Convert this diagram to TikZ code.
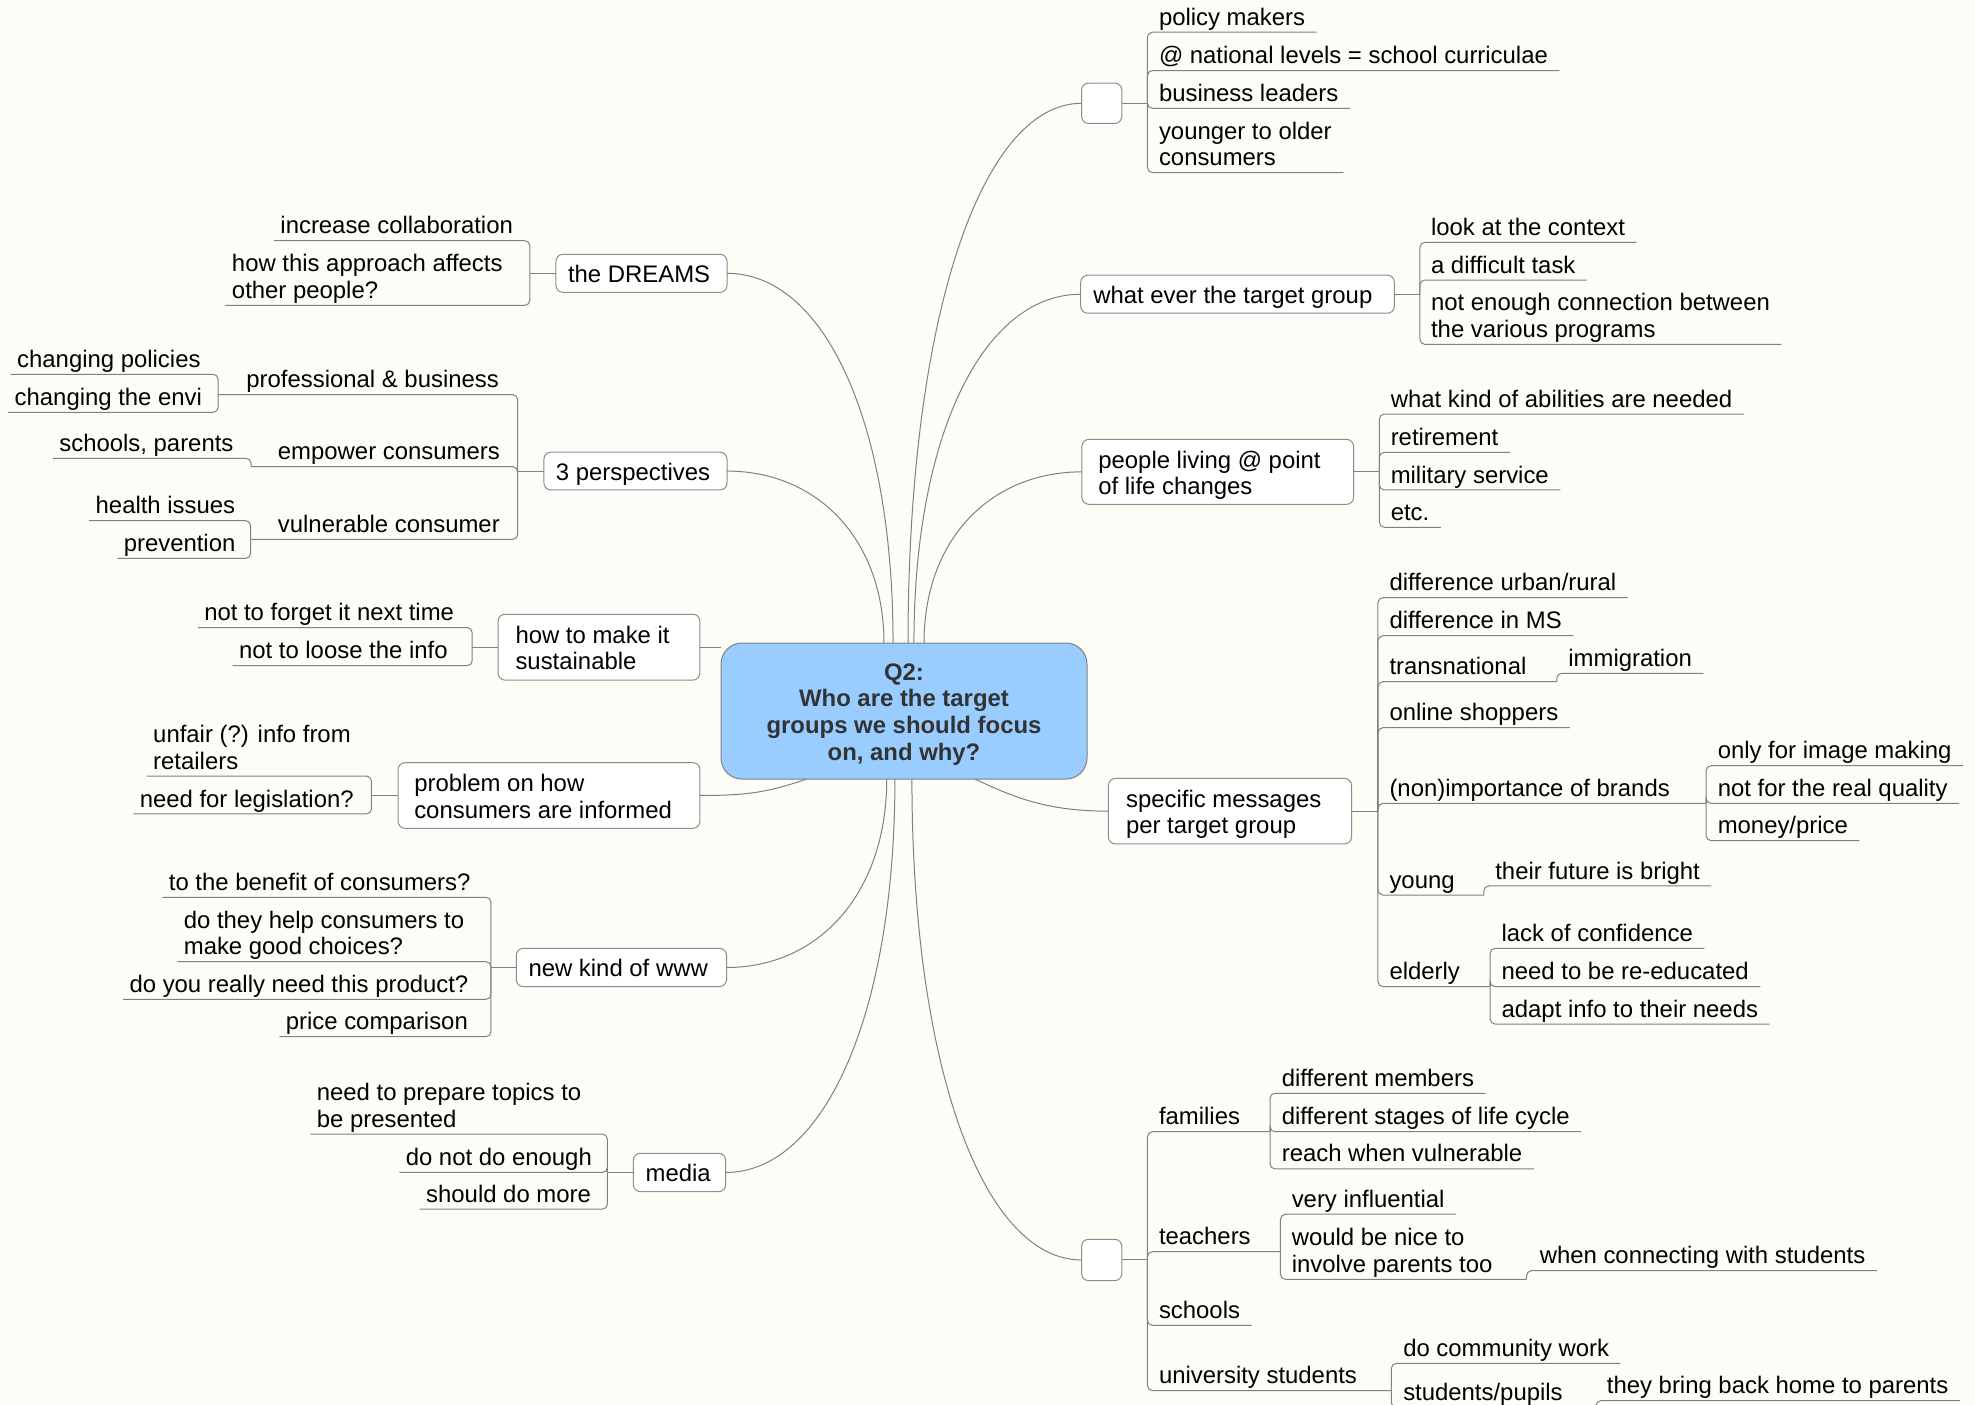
\documentclass[tikz,border=0pt]{standalone}
\usepackage{fontspec}
\setmainfont{Liberation Sans}
\definecolor{bg}{RGB}{253,253,247}
\definecolor{conncol}{RGB}{128,128,128}
\definecolor{boxline}{RGB}{140,140,140}
\definecolor{ctrfill}{RGB}{153,204,255}
\definecolor{ctrtext}{RGB}{51,51,51}
\newcommand\leaffont{\fontsize{23.9pt}{26.45pt}\selectfont}
\newcommand\twoln[2]{\vtop{\hbox{#1}\hbox{#2}}}
\newcommand\lbox[2]{\makebox[#1][l]{#2}}
% right-side leaves / inner nodes
\newcommand\RL[6]{\node[rleaf] (#1) at (#4-9,#5-5.5) {#6};\draw[trk] (#2,#3) |- (#1.east |- 0,#5);}
\newcommand\RLL[6]{\node[rleaf] (#1) at (#4-9,#5-26.5) {#6};\draw[trk] (#2,#3) |- (#1.east |- 0,#5);}
\newcommand\RN[7]{\node[rleaf] (#1) at (#4-9,#5-5.5) {#7};\draw[trk] (#2,#3) |- (#6,#5);}
\newcommand\RNN[7]{\node[rleaf] (#1) at (#4-9,#5-26.5) {#7};\draw[trk] (#2,#3) |- (#6,#5);}
% left-side leaves / inner nodes
\newcommand\LL[6]{\node[lleaf] (#1) at (#4-5,#5-5.5) {#6};\draw[trk] (#2,#3) |- (#1.west |- 0,#5);}
\newcommand\LLL[6]{\node[lleaf] (#1) at (#4-5,#5-26.5) {#6};\draw[trk] (#2,#3) |- (#1.west |- 0,#5);}
\newcommand\LN[7]{\node[lleaf] (#1) at (#4-5,#5-5.5) {#7};\draw[trk] (#2,#3) |- (#6,#5);}
\tikzset{
  conn/.style={draw=conncol, line width=1pt},
  trk/.style={conn, rounded corners=5pt},
  rleaf/.style={anchor=base west, inner xsep=11.34pt, inner ysep=0pt, font=\leaffont, text=black},
  lleaf/.style={anchor=base west, inner xsep=6.3pt, inner ysep=0pt, font=\leaffont, text=black},
  topic/.style={draw=boxline, fill=white, line width=1pt, rounded corners=7pt, inner sep=0pt, outer sep=0pt, anchor=center, font=\leaffont, text=black, text height=22pt, text depth=3pt},
  topicii/.style={topic, text depth=29.45pt},
  ctrbox/.style={draw=gray, fill=ctrfill, line width=1pt, rounded corners=21pt, inner sep=0pt, outer sep=0pt, anchor=center, text=ctrtext, font=\fontsize{23.9pt}{26.8pt}\selectfont\bfseries}
}
\begin{document}
\begin{tikzpicture}[x=1.2596pt,y=-1.2596pt]
\useasboundingbox (0,0) rectangle (1568,1115.4);
\fill[bg] (0,0) rectangle (1568,1115.4);
\clip (0,0) rectangle (1568,1115.4);

% central topic
\node[ctrbox, minimum width=366pt, minimum height=136pt] (ctr) at (717.7,564.5) {\raisebox{-4pt}[\height][\depth]{\begin{tabular}{@{}c@{}}Q2:\\Who are the target\\groups we should focus\\on, and why?\end{tabular}}};

% main topics
\node[topic, minimum width=40.2pt, minimum height=40.3pt] (e1) at (874.65,82) {};
\node[topic, minimum width=313.6pt, minimum height=38pt] (wt) at (982.5,233.6) {\lbox{288.4pt}{what ever the target group}};
\node[topicii, minimum width=271.6pt, minimum height=65pt] (pl) at (966.8,374.6) {\lbox{238.8pt}{\twoln{people living @ point}{of life changes}}};
\node[topicii, minimum width=243.1pt, minimum height=65.5pt] (sm) at (976.5,644) {\lbox{207.8pt}{\twoln{specific messages}{per target group}}};
\node[topic, minimum width=40.2pt, minimum height=41.3pt] (e2) at (874.65,1000.3) {};
\node[topic, minimum width=171.1pt, minimum height=38pt] (dr) at (509.3,217) {\lbox{146.9pt}{the DREAMS}};
\node[topic, minimum width=183.1pt, minimum height=37.8pt] (tp) at (504.5,374) {\lbox{159pt}{3 perspectives}};
\node[topicii, minimum width=201.9pt, minimum height=65.8pt] (hm) at (475.55,513.8) {\lbox{166.9pt}{\twoln{how to make it}{sustainable}}};
\node[topicii, minimum width=301.9pt, minimum height=65.6pt] (pr) at (435.85,631.55) {\lbox{269.4pt}{\twoln{problem on how}{consumers are informed}}};
\node[topic, minimum width=210.2pt, minimum height=38.3pt] (ww) at (493.35,768.1) {\lbox{185.8pt}{new kind of www}};
\node[topic, minimum width=92.3pt, minimum height=38.4pt] (md) at (539.45,930.85) {\lbox{67.6pt}{media}};

% attachment points on the central topic
\coordinate (s3p) at (701.8,510.5);
\coordinate (sdr) at (709,510.5);
\coordinate (se1) at (720.9,510.5);
\coordinate (swt) at (725.6,510.5);
\coordinate (spl) at (733.6,510.5);
\coordinate (sww) at (704,618.5);
\coordinate (smd) at (710.5,618.5);
\coordinate (se2) at (724,618.5);
\coordinate (ssm) at (774,618.5);
\coordinate (spr) at (640.7,618.5);

% main connectors
\draw[conn] (se1) .. controls +(0,-257) and +(-80,0) .. (e1.west);
\draw[conn] (swt) .. controls +(0,-166) and +(-77,0) .. (wt.west);
\draw[conn] (spl) .. controls +(0,-82) and +(-73,0) .. (pl.west);
\draw[conn] (sdr) .. controls +(0,-176) and +(77,0) .. (dr.east);
\draw[conn] (s3p) .. controls +(0,-82) and +(72,0) .. (tp.east);
\draw[conn] (sww) .. controls +(0,90) and +(74,0) .. (ww.east);
\draw[conn] (smd) .. controls +(0,187) and +(78,0) .. (md.east);
\draw[conn] (se2) .. controls +(0,229) and +(-78,0) .. (e2.west);
\draw[conn] (ssm) .. controls +(30,14) and +(-50,0) .. (sm.west);
\draw[conn] (spr) .. controls +(-30,10) and +(40,0) .. (pr.east);
\draw[conn] (hm.east) -- (hm.east -| ctr.west);

% ---------- right side ----------
\draw[conn] (e1.east) -- (911,82);
\RL{pm}{911}{82}{920}{25.6}{policy makers}
\RL{nl}{911}{82}{920}{56}{@ national levels = school curriculae}
\RL{bl}{911}{82}{920}{86}{business leaders}
\RLL{yo}{911}{82}{920}{137}{\twoln{younger to older}{consumers}}

\draw[conn] (wt.east) -- (1127.3,233.6);
\RL{lc}{1127.3}{233.6}{1136}{192.4}{look at the context}
\RL{dt}{1127.3}{233.6}{1136}{222.3}{a difficult task}
\RLL{ne}{1127.3}{233.6}{1136}{273.4}{\twoln{not enough connection between}{the various programs}}

\draw[conn] (pl.east) -- (1095.1,374.6);
\RL{wk}{1095.1}{374.6}{1104}{328.7}{what kind of abilities are needed}
\RL{rt}{1095.1}{374.6}{1104}{359.1}{retirement}
\RL{ms}{1095.1}{374.6}{1104}{389}{military service}
\RL{et}{1095.1}{374.6}{1104}{418.6}{etc.}

\draw[conn] (sm.east) -- (1094,644);
\RL{du}{1094}{644}{1103}{474.5}{difference urban/rural}
\RL{dm}{1094}{644}{1103}{504.7}{difference in MS}
\RN{tn}{1094}{644}{1103}{541.2}{1236}{transnational}
\RL{im}{1236}{541.2}{1245}{534.5}{immigration}
\RL{os}{1094}{644}{1103}{577.7}{online shoppers}
\RN{nb}{1094}{644}{1103}{637.8}{1354.5}{(non)importance of brands}
\RL{oi}{1354.5}{637.8}{1363.6}{607.9}{only for image making}
\RL{nr}{1354.5}{637.8}{1363.6}{637.8}{not for the real quality}
\RL{mp}{1354.5}{637.8}{1363.6}{667.4}{money/price}
\RN{yg}{1094}{644}{1103}{710.6}{1178}{young}
\RL{fb}{1178}{710.6}{1187}{703.4}{their future is bright}
\RN{el}{1094}{644}{1103}{783.3}{1183}{elderly}
\RL{lk}{1183}{783.3}{1192}{752.9}{lack of confidence}
\RL{nd}{1183}{783.3}{1192}{783.3}{need to be re-educated}
\RL{ad}{1183}{783.3}{1192}{813}{adapt info to their needs}

\draw[conn] (e2.east) -- (911,1000.3);
\RN{fa}{911}{1000.3}{920}{898.5}{1008.3}{families}
\RL{dfm}{1008.3}{898.5}{1017.5}{868}{different members}
\RL{dst}{1008.3}{898.5}{1017.5}{898.5}{different stages of life cycle}
\RL{rwv}{1008.3}{898.5}{1017.5}{928}{reach when vulnerable}
\RN{te}{911}{1000.3}{920}{993.7}{1016.6}{teachers}
\RL{vi}{1016.6}{993.7}{1025.4}{964}{very influential}
\RNN{wn}{1016.6}{993.7}{1025.4}{1015.7}{1212}{\twoln{would be nice to}{involve parents too}}
\RL{wc}{1212}{1015.7}{1222.3}{1008.8}{when connecting with students}
\RL{sc}{911}{1000.3}{920}{1052.2}{schools}
\RN{us}{911}{1000.3}{920}{1104}{1104.6}{university students}
\RL{cw}{1104.6}{1104}{1113.9}{1082.4}{do community work}
\RN{spp}{1104.6}{1104}{1113.9}{1117.5}{1267}{students/pupils}
\RL{bh}{1267}{1117.5}{1275.6}{1112}{they bring back home to parents}

% ---------- left side ----------
\draw[conn] (dr.west) -- (420.6,217);
\LL{ic}{420.6}{217}{222.5}{191.1}{increase collaboration}
\LLL{ha}{420.6}{217}{184}{242.4}{\twoln{how this approach affects}{other people?}}

\draw[conn] (tp.west) -- (411,374);
\LN{pb}{411}{374}{195.5}{313.3}{173.2}{professional \& business}
\LL{cp}{173.2}{313.3}{13.5}{297.2}{changing policies}
\LL{ce}{173.2}{313.3}{11.5}{327.3}{changing the envi}
\LN{ec}{411}{374}{220.5}{370.5}{199.3}{empower consumers}
\LL{spa}{199.3}{370.5}{47}{363.9}{schools, parents}
\LN{vc}{411}{374}{220.5}{428.2}{199}{vulnerable consumer}
\LL{hi}{199}{428.2}{75.8}{413.4}{health issues}
\LL{pv}{199}{428.2}{98.1}{443.3}{prevention}

\draw[conn] (hm.west) -- (374.9,513.8);
\LL{nf}{374.9}{513.8}{162}{498.3}{not to forget it next time}
\LL{nt}{374.9}{513.8}{189.6}{528.5}{not to loose the info}

\draw[conn] (pr.west) -- (294.9,631.55);
\LLL{uf}{294.9}{631.55}{121.5}{616.1}{\twoln{unfair (?) info from}{retailers}}
\LL{nfl}{294.9}{631.55}{110.8}{646.2}{need for legislation?}

\draw[conn] (ww.west) -- (389.8,768.1);
\LL{tb}{389.8}{768.1}{133.9}{712.4}{to the benefit of consumers?}
\LLL{dh}{389.8}{768.1}{145.8}{763.5}{\twoln{do they help consumers to}{make good choices?}}
\LL{dy}{389.8}{768.1}{102.7}{793.4}{do you really need this product?}
\LL{pc}{389.8}{768.1}{226.8}{823}{price comparison}

\draw[conn] (md.west) -- (482.2,930.85);
\LLL{np}{482.2}{930.85}{251.4}{900.3}{\twoln{need to prepare topics to}{be presented}}
\LL{dn}{482.2}{930.85}{322}{930.85}{do not do enough}
\LL{sd}{482.2}{930.85}{338.2}{960}{should do more}
\end{tikzpicture}
\end{document}
